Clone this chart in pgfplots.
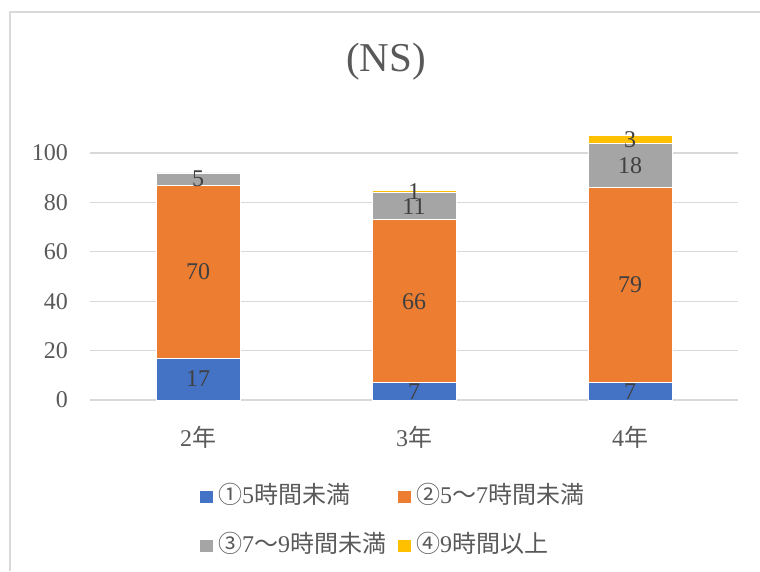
\documentclass[border=0pt]{standalone}
\usepackage{fontspec}
\setmainfont{Liberation Serif}
\newfontfamily\jp{Noto Sans CJK JP}
\usepackage{pgfplots}
\usepackage{pgfplotstable}
\pgfplotsset{compat=1.18}
\definecolor{cBlue}{HTML}{4472C4}
\definecolor{cOrange}{HTML}{ED7D31}
\definecolor{cGray}{HTML}{A5A5A5}
\definecolor{cYellow}{HTML}{FFC000}
\definecolor{gridgray}{HTML}{D9D9D9}
\definecolor{textgray}{HTML}{595959}
\definecolor{labgray}{HTML}{404040}

\pgfplotstableread{
x a b c d
0 17 70 5 0
1 7 66 11 1
2 7 79 18 3
}\bardata

\pgfplotstableread{
x y label
0 8.5 17
0 52 70
0 89.5 5
1 3.5 7
1 40 66
1 78.5 11
1 84.5 1
2 3.5 7
2 46.5 79
2 95 18
2 105.5 3
}\labeldata

\newcommand{\bigf}{\fontsize{24}{28}\selectfont}

\begin{document}
\begin{tikzpicture}[x=1pt,y=1pt]
\path[use as bounding box] (0,0) rectangle (760,571);
\draw[color=gridgray, line width=1.5pt] (10,0) -- (10,559) -- (760,559);
\node[text=textgray, font=\fontsize{41}{48}\selectfont] at (386,509) {(NS)};
\begin{axis}[
  at={(90pt,171pt)}, anchor=south west, scale only axis,
  width=648pt, height=271.7pt,
  xmin=-0.5, xmax=2.5, ymin=0, ymax=110,
  ybar stacked, bar width=84pt,
  ytick={0,20,40,60,80,100},
  xtick={0,1,2},
  xticklabels={{2{\jp 年}},{3{\jp 年}},{4{\jp 年}}},
  ymajorgrids, grid style={gridgray, line width=1.2pt},
  axis line style={draw=none},
  major tick length=0pt,
  tick style={draw=none},
  /pgf/number format/assume math mode=true,
  yticklabel style={font=\bigf, text=textgray, anchor=east, inner sep=0pt, xshift=-22pt},
  xticklabel style={font=\bigf, text=textgray, anchor=base, inner sep=0pt, yshift=-46pt},
  legend columns=2,
  legend cell align=left,
  legend style={at={(0.16975,-0.23555)}, anchor=north west, draw=none, fill=none,
    inner sep=0pt, column sep=0pt, row sep=0pt,
    nodes={inner sep=0pt, anchor=base west, text=textgray, font=\bigf}},
  legend image code/.code={%
    \fill[#1, draw=none] (0pt,0.5pt) rectangle (13pt,12.5pt);
    \path[draw=none, fill=none] (0pt,-10pt) rectangle (18pt,39pt);},
]
\addplot[fill=cBlue, draw=white, line width=0.5pt] table[x=x, y=a] {\bardata};
\addlegendentry{\makebox[180pt][l]{{\jp ①}5{\jp 時間未満}}}
\addplot[fill=cOrange, draw=white, line width=0.5pt] table[x=x, y=b] {\bardata};
\addlegendentry{{\jp ②}5{\jp ～}7{\jp 時間未満}}
\addplot[fill=cGray, draw=white, line width=0.5pt] table[x=x, y=c] {\bardata};
\addlegendentry{\makebox[180pt][l]{{\jp ③}7{\jp ～}9{\jp 時間未満}}}
\addplot[fill=cYellow, draw=white, line width=0.5pt] table[x=x, y=d] {\bardata};
\addlegendentry{{\jp ④}9{\jp 時間以上}}
\end{axis}
\begin{axis}[
  at={(90pt,171pt)}, anchor=south west, scale only axis,
  width=648pt, height=271.7pt,
  xmin=-0.5, xmax=2.5, ymin=0, ymax=110,
  hide axis, clip=false,
]
\addplot[only marks, mark=none, nodes near coords, point meta=explicit symbolic,
  nodes near coords style={anchor=center, font=\bigf, text=labgray, inner sep=0pt}]
  table[x=x, y=y, meta=label] {\labeldata};
\end{axis}
\end{tikzpicture}
\end{document}
